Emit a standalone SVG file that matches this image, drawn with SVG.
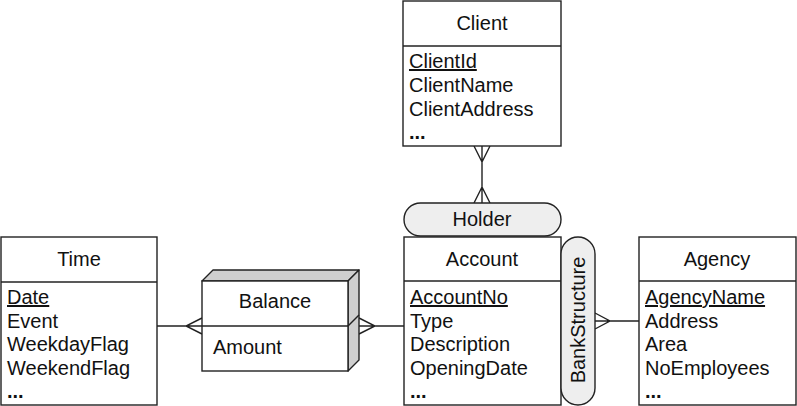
<svg xmlns="http://www.w3.org/2000/svg" width="797" height="406" viewBox="0 0 797 406">
<style>
.box{fill:#fff;stroke:#222;stroke-width:1.4}
.pill{fill:#eeeeee;stroke:#222;stroke-width:1.4}
.shade{fill:#cfcfcf;stroke:#222;stroke-width:1.4;stroke-linejoin:round}
.ln{fill:none;stroke:#222;stroke-width:1.4}
text{font-family:"Liberation Sans",Arial,sans-serif;font-size:20px;fill:#111}
.h{text-anchor:middle}
.u{text-decoration:underline}
.d{font-weight:bold}
</style>
<rect width="797" height="406" fill="#fff"/>
<g id="connectors">
<path class="ln" d="M482,146V203M474,146L482,162L490,146M474,203L482,187L490,203"/>
<path class="ln" d="M157,326H202M202,318L186,326L202,334"/>
<path class="ln" d="M359,326H404M359,318L375,326L359,334"/>
<path class="ln" d="M595,321H639M595,313L610,321L595,329"/>
</g>
<g id="client">
<rect class="box" x="403" y="1" width="158" height="145"/>
<line class="ln" x1="403" y1="46" x2="561" y2="46"/>
<text class="h" x="482" y="30">Client</text>
<text class="u" x="409" y="68">ClientId</text>
<text x="409" y="92">ClientName</text>
<text x="409" y="116">ClientAddress</text>
<text class="d" x="409" y="139">...</text>
</g>
<g id="holder">
<rect class="pill" x="404" y="203" width="157" height="33" rx="16.5"/>
<text class="h" x="482" y="226">Holder</text>
</g>
<g id="account">
<rect class="box" x="404" y="237" width="157" height="168"/>
<line class="ln" x1="404" y1="281" x2="561" y2="281"/>
<text class="h" x="482" y="266">Account</text>
<text class="u" x="410" y="304">AccountNo</text>
<text x="410" y="328">Type</text>
<text x="410" y="351">Description</text>
<text x="410" y="375">OpeningDate</text>
<text class="d" x="410" y="398">...</text>
</g>
<g id="bankstructure">
<rect class="pill" x="561" y="237" width="34" height="168" rx="17"/>
<text class="h" transform="translate(585,320) rotate(-90)">BankStructure</text>
</g>
<g id="agency">
<rect class="box" x="639" y="237" width="157" height="168"/>
<line class="ln" x1="639" y1="281" x2="796" y2="281"/>
<text class="h" x="717" y="266">Agency</text>
<text class="u" x="645" y="304">AgencyName</text>
<text x="645" y="328">Address</text>
<text x="645" y="351">Area</text>
<text x="645" y="375">NoEmployees</text>
<text class="d" x="645" y="398">...</text>
</g>
<g id="time">
<rect class="box" x="1" y="237" width="156" height="168"/>
<line class="ln" x1="1" y1="282" x2="157" y2="282"/>
<text class="h" x="79" y="266">Time</text>
<text class="u" x="7" y="304">Date</text>
<text x="7" y="328">Event</text>
<text x="7" y="351">WeekdayFlag</text>
<text x="7" y="375">WeekendFlag</text>
<text class="d" x="7" y="398">...</text>
</g>
<g id="balance">
<path class="shade" d="M202,281L213,270H359L348,281Z"/>
<path class="shade" d="M348,281L359,270V360L348,371Z"/>
<rect class="box" x="202" y="281" width="146" height="90"/>
<line class="ln" x1="202" y1="326" x2="348" y2="326"/>
<line class="ln" x1="348" y1="326" x2="359" y2="315"/>
<text class="h" x="275" y="308">Balance</text>
<text x="213" y="354">Amount</text>
</g>
</svg>
